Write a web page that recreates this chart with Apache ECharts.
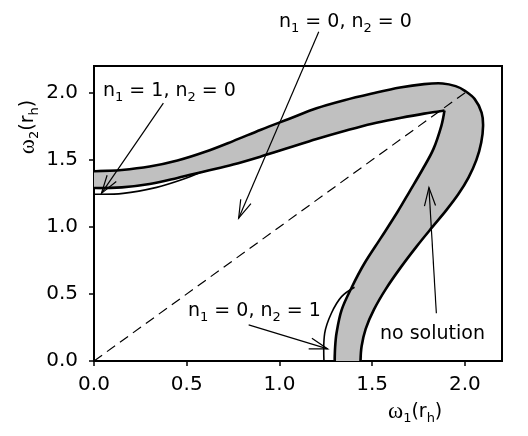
<!DOCTYPE html>
<html><head><meta charset="utf-8">
<script src="https://cdn.jsdelivr.net/npm/echarts@6/dist/echarts.min.js"></script>
<style>html,body{margin:0;padding:0;background:#fff}#c{width:528px;height:436px}</style>
</head><body><div id="c"></div>
<script>
// ---- data ----
const xTicks = [0, 0.5, 1.0, 1.5, 2.0];
const xTickLabels = ['0.0', '0.5', '1.0', '1.5', '2.0'];
const yTicks = [0, 0.5, 1.0, 1.5, 2.0];
const yTickLabels = ['0.0', '0.5', '1.0', '1.5', '2.0'];

// outer boundary of the "no solution" band
const outerBoundary = [
  [0.00,1.415],[0.15,1.425],[0.30,1.45],[0.45,1.495],[0.60,1.56],[0.75,1.64],[0.90,1.725],
  [1.05,1.805],[1.20,1.885],[1.35,1.945],[1.50,1.995],[1.65,2.04],[1.78,2.065],[1.88,2.07],
  [1.95,2.05],[2.00,2.015],[2.053,1.953],[2.09,1.853],[2.098,1.754],[2.088,1.63],[2.062,1.50],
  [2.02,1.37],[1.965,1.245],[1.90,1.125],[1.825,1.00],[1.74,0.855],[1.655,0.70],[1.575,0.54],
  [1.51,0.385],[1.465,0.24],[1.443,0.11],[1.437,0.00]
];
// inner boundary, upper branch (ends at the cusp)
const innerUpper = [
  [0.00,1.29],[0.15,1.295],[0.30,1.32],[0.45,1.365],[0.60,1.415],[0.75,1.465],[0.90,1.525],
  [1.05,1.59],[1.20,1.655],[1.35,1.715],[1.50,1.77],[1.65,1.812],[1.78,1.845],[1.89,1.868]
];
// inner boundary, lower branch (starts at the cusp)
const innerLower = [
  [1.89,1.868],[1.873,1.754],[1.83,1.58],[1.772,1.43],[1.70,1.26],[1.638,1.115],[1.548,0.92],
  [1.457,0.725],[1.39,0.55],[1.335,0.38],[1.308,0.21],[1.30,0.10],[1.298,0.00]
];
// n1 = 1, n2 = 0 curve
const thinUpper = [[0.00,1.244],[0.157,1.25],[0.338,1.295],[0.48,1.355],[0.575,1.408]];
// n1 = 0, n2 = 1 curve
const thinLower = [[1.24,0.00],[1.244,0.207],[1.28,0.356],[1.335,0.48],[1.405,0.55]];
// dashed diagonal
const diagonal = [[0,0],[2.01,2.01]];
// annotation arrows
const arrowTails = [[1.212,2.455],[0.374,1.923],[0.834,0.269],[1.846,0.356]];
const arrowTips  = [[0.78,1.065],[0.04,1.25],[1.26,0.09],[1.806,1.293]];

// ---- chart ----
const chart = echarts.init(document.getElementById('c'), null, {renderer: 'canvas'});
const SM = 0.35;
const bandPolygon = outerBoundary.concat(innerLower.slice().reverse(), innerUpper.slice().reverse().slice(1));
const pts = (api, arr) => arr.map(p => api.coord(p));
function findLabel(v, ticks, labels) {
  for (let i = 0; i < ticks.length; i++) if (Math.abs(ticks[i] - v) < 1e-9) return labels[i];
  return '';
}
const SANS = '"DejaVu Sans", sans-serif';
const SERIF = '"Liberation Serif", "Times New Roman", serif';
const richSub = {
  n: {fontFamily: SANS, fontSize: 19, lineHeight: 26, fill: '#000', color: '#000', verticalAlign: 'middle'},
  s: {fontFamily: SANS, fontSize: 13, lineHeight: 14, fill: '#000', color: '#000', verticalAlign: 'bottom'},
  w: {fontFamily: SERIF, fontSize: 23, lineHeight: 26, fill: '#000', color: '#000', verticalAlign: 'middle'}
};
function label(text, x, y, extra) {
  return Object.assign({
    type: 'text', x: x, y: y, silent: true,
    style: {text: text, rich: richSub, align: 'left', verticalAlign: 'middle', fill: '#000', font: '19px ' + SANS}
  }, extra || {});
}

const option = {
  animation: false,
  backgroundColor: '#fff',
  grid: {left: 94, right: 26, top: 66, bottom: 75, show: true, borderColor: '#000', borderWidth: 2, backgroundColor: 'transparent'},
  xAxis: {
    type: 'value', min: 0, max: 2.2,
    axisLine: {show: true, onZero: false, lineStyle: {color: '#000', width: 2}},
    axisTick: {show: true, length: 5, lineStyle: {color: '#000', width: 1.5}, customValues: xTicks},
    axisLabel: {customValues: xTicks, margin: 14, color: '#000', fontFamily: SANS, fontSize: 20,
      formatter: v => findLabel(v, xTicks, xTickLabels)},
    splitLine: {show: false}
  },
  yAxis: {
    type: 'value', min: 0, max: 2.2,
    axisLine: {show: true, onZero: false, lineStyle: {color: '#000', width: 2}},
    axisTick: {show: true, length: 5, lineStyle: {color: '#000', width: 1.5}, customValues: yTicks},
    axisLabel: {customValues: yTicks, margin: 16, color: '#000', fontFamily: SANS, fontSize: 20,
      formatter: v => findLabel(v, yTicks, yTickLabels)},
    splitLine: {show: false}
  },
  series: [
    {
      type: 'custom', clip: true, z: 1, data: [[0, 0]],
      renderItem: (params, api) => ({
        type: 'polygon',
        shape: {points: pts(api, bandPolygon), smooth: SM},
        style: {fill: '#c0c0c0', stroke: null}
      })
    },
    {
      type: 'line', data: diagonal, symbol: 'none', z: 2, silent: true,
      lineStyle: {color: '#000', width: 1.2, type: [10, 6]}
    },
    {
      type: 'custom', clip: true, z: 3, data: [[0, 0]],
      renderItem: (params, api) => {
        const thick = {stroke: '#000', lineWidth: 2.6, fill: null, lineJoin: 'round'};
        const thin = {stroke: '#000', lineWidth: 1.6, fill: null};
        return {type: 'group', children: [
          {type: 'polyline', shape: {points: pts(api, outerBoundary), smooth: SM}, style: thick},
          {type: 'polyline', shape: {points: pts(api, innerUpper), smooth: SM}, style: thick},
          {type: 'polyline', shape: {points: pts(api, innerLower), smooth: SM}, style: thick},
          {type: 'polyline', shape: {points: pts(api, thinUpper), smooth: SM}, style: thin},
          {type: 'polyline', shape: {points: pts(api, thinLower), smooth: SM}, style: thin}
        ]};
      }
    },
    {
      type: 'custom', clip: false, z: 4,
      data: arrowTails.map((t, i) => [t[0], t[1], arrowTips[i][0], arrowTips[i][1]]),
      renderItem: (params, api) => {
        const a = api.coord([api.value(0), api.value(1)]);
        const b = api.coord([api.value(2), api.value(3)]);
        const ang = Math.atan2(a[1] - b[1], a[0] - b[0]);
        const L = 19, h = 17 * Math.PI / 180;
        const p1 = [b[0] + L * Math.cos(ang + h), b[1] + L * Math.sin(ang + h)];
        const p2 = [b[0] + L * Math.cos(ang - h), b[1] + L * Math.sin(ang - h)];
        const st = {stroke: '#000', lineWidth: 1.2, fill: null};
        return {type: 'group', children: [
          {type: 'line', shape: {x1: a[0], y1: a[1], x2: b[0], y2: b[1]}, style: st},
          {type: 'polyline', shape: {points: [p1, b, p2]}, style: st}
        ]};
      }
    }
  ],
  graphic: [
    label('{n|n}{s|1}{n| = 0, n}{s|2}{n| = 0}', 279, 22),
    label('{n|n}{s|1}{n| = 1, n}{s|2}{n| = 0}', 103, 91),
    label('{n|n}{s|1}{n| = 0, n}{s|2}{n| = 1}', 188, 311),
    label('{n|no solution}', 380, 334),
    label('{w|ω}{s|1}{n|(r}{s|h}{n|)}', 388, 412),
    label('', 28, 127, {rotation: Math.PI / 2, style: {text: '{w|ω}{s|2}{n|(r}{s|h}{n|)}', rich: richSub, align: 'center', verticalAlign: 'middle', fill: '#000', font: '19px ' + SANS}})
  ]
};
chart.setOption(option);
</script>
</body></html>
